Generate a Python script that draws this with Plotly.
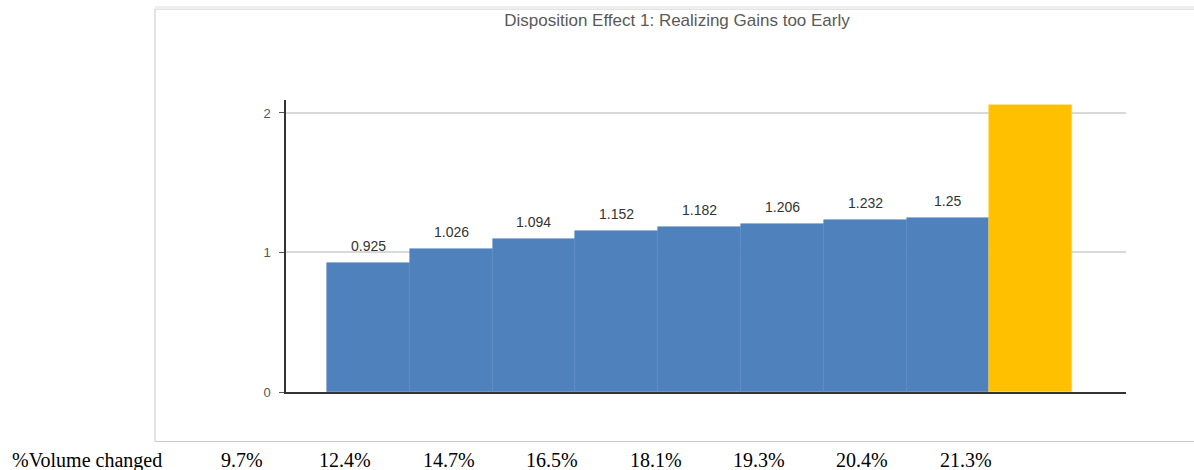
import plotly.graph_objects as go

# Disposition effect: ratio per volume-change bucket, plus the benchmark bar
bucket_values = [0.925, 1.026, 1.094, 1.152, 1.182, 1.206, 1.232, 1.25]
benchmark_value = 2.06
volume_changed = ["9.7%", "12.4%", "14.7%", "16.5%", "18.1%", "19.3%", "20.4%", "21.3%"]
y_ticks = [0, 1, 2]
title_text = "Disposition Effect 1: Realizing Gains too Early"
row_label = "%Volume changed"

W, H = 1194, 470
L, R, T, B = 286, 68, 100, 78
PW, PH = W - L - R, H - T - B

BLUE = "#4F81BD"
GOLD = "#FFC000"

n = len(bucket_values)
x_blue = list(range(n))

fig = go.Figure()
fig.add_trace(go.Bar(
    x=x_blue, y=bucket_values, width=1.0,
    marker=dict(color=BLUE, line=dict(color="#5b8cc6", width=0.6)),
    hoverinfo="x+y", showlegend=False,
))
fig.add_trace(go.Bar(
    x=[n], y=[benchmark_value], width=1.0,
    marker=dict(color=GOLD, line=dict(color="#ffd34d", width=0.6)),
    showlegend=False,
))

def px_x(p):
    return (p - L) / PW

def px_y(p):
    return (H - B - p) / PH

annotations = []
for i, v in enumerate(bucket_values):
    annotations.append(dict(
        x=i, y=v, xref="x", yref="y", text=str(v), showarrow=False,
        yanchor="bottom", yshift=7,
        font=dict(family="Liberation Sans, Arial, sans-serif", size=14, color="#333333"),
    ))

# table row under the chart
serif = dict(family="Liberation Serif, Times New Roman, serif", size=20, color="#000000")
annotations.append(dict(
    x=px_x(10), y=px_y(460), xref="paper", yref="paper", text=row_label,
    showarrow=False, xanchor="left", yanchor="middle", font=serif,
))
col_start, col_step = 242, 103.4
for i, s in enumerate(volume_changed):
    annotations.append(dict(
        x=px_x(col_start + i * col_step), y=px_y(460), xref="paper", yref="paper",
        text=s, showarrow=False, xanchor="center", yanchor="middle", font=serif,
    ))

shapes = [
    # frame around the chart area
    dict(type="rect", xref="paper", yref="paper",
         x0=px_x(155), x1=px_x(1210), y0=px_y(441.5), y1=px_y(9),
         line=dict(color="#c8c8c8", width=1), fillcolor="rgba(0,0,0,0)", layer="below"),
    dict(type="rect", xref="paper", yref="paper",
         x0=px_x(155), x1=px_x(1194), y0=px_y(9), y1=px_y(6),
         line=dict(width=0), fillcolor="#efefef", layer="below"),
]

fig.update_layout(
    width=W, height=H,
    margin=dict(l=L, r=R, t=T, b=B, pad=0),
    paper_bgcolor="white", plot_bgcolor="white",
    bargap=0,
    title=dict(text=title_text, xref="container", yref="container",
               x=677 / W, y=(H - 20) / H, xanchor="center", yanchor="middle",
               font=dict(family="Liberation Sans, Arial, sans-serif", size=17, color="#595959")),
    xaxis=dict(range=[-0.995, n + 1.15], showticklabels=False, ticks="",
               showgrid=False, zeroline=False, showline=True,
               linecolor="#333333", linewidth=1.5, fixedrange=True),
    yaxis=dict(range=[0, 2.093], tickvals=y_ticks, ticks="outside", ticklen=5,
               tickcolor="#555555", tickwidth=1,
               tickfont=dict(family="Liberation Sans, Arial, sans-serif", size=13, color="#555555"),
               showgrid=True, gridcolor="#d9d9d9", gridwidth=1.5,
               zeroline=False, showline=True, linecolor="#333333", linewidth=1.5,
               ticklabelstandoff=6, fixedrange=True),
    annotations=annotations,
    shapes=shapes,
)

fig.write_html("out.html")
